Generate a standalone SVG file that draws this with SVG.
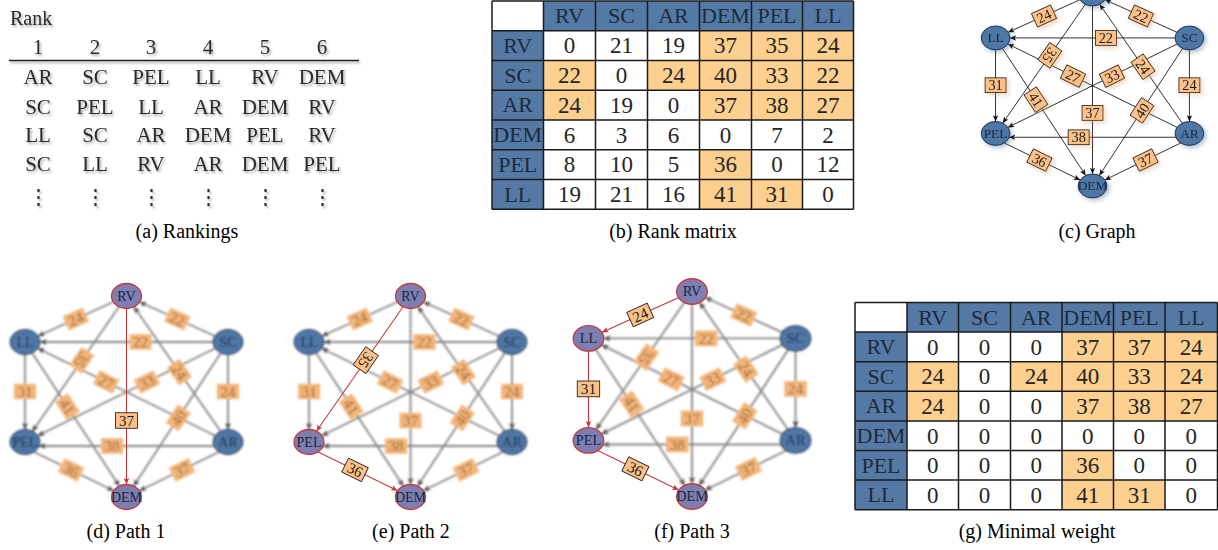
<svg xmlns="http://www.w3.org/2000/svg" width="1218" height="550" viewBox="0 0 1218 550">
<style>
text{font-family:"Liberation Serif","DejaVu Serif",serif}
.cap{font-size:20px;text-anchor:middle;fill:#000}
.rk{font-size:21px;text-anchor:middle;fill:#2b2b2b}
.th{font-size:22px;text-anchor:middle;fill:#1c2a3c}
.td{font-size:23px;text-anchor:middle;fill:#252525}
.hb{fill:#5479a4}.or{fill:#fed08f}.wh{fill:#fff}
.grid{stroke:#1a1a1a;stroke-width:1.5;fill:none}
.e line{stroke:#111;stroke-width:0.9}
.er line{stroke:#c23b3b;stroke-width:1.1}
.eg line{stroke:#858585;stroke-width:1.8}
.nb ellipse{fill:#4f77a5;stroke:#1d2f4a;stroke-width:1}
.nh ellipse{fill:#7e7fb1;stroke:#c8383c;stroke-width:1.3}
.nb text,.nh text{font-size:14px;text-anchor:middle;fill:#1b2540}
.lb rect{fill:#fdc187;stroke:#111;stroke-width:0.8}
.lb text{font-size:15px;text-anchor:middle;fill:#1a1a1a}
.lg rect{fill:#f3b57a}
.lg text{font-size:15px;text-anchor:middle;fill:#9a6434}
</style>
<defs>
<filter id="tsh" x="-20%" y="-20%" width="140%" height="140%"><feDropShadow dx="1.5" dy="2" stdDeviation="1.3" flood-color="#000" flood-opacity="0.35"/></filter>
<filter id="sh" x="-30%" y="-30%" width="170%" height="170%"><feGaussianBlur in="SourceGraphic" stdDeviation="2"/><feOffset dx="2.5" dy="2.5" result="b"/><feComponentTransfer in="b" result="c"><feFuncA type="linear" slope="0.45"/></feComponentTransfer><feMerge><feMergeNode in="c"/><feMergeNode in="SourceGraphic"/></feMerge></filter>
<filter id="bl" x="-10%" y="-10%" width="120%" height="120%"><feGaussianBlur stdDeviation="1.3"/></filter>
<marker id="k125" viewBox="-30 -10 40 20" markerWidth="40" markerHeight="20" refX="0" refY="0" orient="auto" markerUnits="userSpaceOnUse"><path d="M-12.5,0 L-19,-2.8 L-17.5,0 L-19,2.8 Z" fill="#111"/></marker>
<marker id="k131" viewBox="-30 -10 40 20" markerWidth="40" markerHeight="20" refX="0" refY="0" orient="auto" markerUnits="userSpaceOnUse"><path d="M-13.1,0 L-19.6,-2.8 L-18.1,0 L-19.6,2.8 Z" fill="#111"/></marker>
<marker id="k140" viewBox="-30 -10 40 20" markerWidth="40" markerHeight="20" refX="0" refY="0" orient="auto" markerUnits="userSpaceOnUse"><path d="M-14,0 L-20.5,-2.8 L-19,0 L-20.5,2.8 Z" fill="#111"/></marker>
<marker id="k144" viewBox="-30 -10 40 20" markerWidth="40" markerHeight="20" refX="0" refY="0" orient="auto" markerUnits="userSpaceOnUse"><path d="M-14.4,0 L-20.9,-2.8 L-19.4,0 L-20.9,2.8 Z" fill="#111"/></marker>
<marker id="k150" viewBox="-30 -10 40 20" markerWidth="40" markerHeight="20" refX="0" refY="0" orient="auto" markerUnits="userSpaceOnUse"><path d="M-15,0 L-21.5,-2.8 L-20,0 L-21.5,2.8 Z" fill="#111"/></marker>
<marker id="g125" viewBox="-30 -10 40 20" markerWidth="40" markerHeight="20" refX="0" refY="0" orient="auto" markerUnits="userSpaceOnUse"><path d="M-12.5,0 L-19,-3 L-17.5,0 L-19,3 Z" fill="#444"/></marker>
<marker id="g131" viewBox="-30 -10 40 20" markerWidth="40" markerHeight="20" refX="0" refY="0" orient="auto" markerUnits="userSpaceOnUse"><path d="M-13.1,0 L-19.6,-3 L-18.1,0 L-19.6,3 Z" fill="#444"/></marker>
<marker id="g140" viewBox="-30 -10 40 20" markerWidth="40" markerHeight="20" refX="0" refY="0" orient="auto" markerUnits="userSpaceOnUse"><path d="M-14,0 L-20.5,-3 L-19,0 L-20.5,3 Z" fill="#444"/></marker>
<marker id="g144" viewBox="-30 -10 40 20" markerWidth="40" markerHeight="20" refX="0" refY="0" orient="auto" markerUnits="userSpaceOnUse"><path d="M-14.4,0 L-20.9,-3 L-19.4,0 L-20.9,3 Z" fill="#444"/></marker>
<marker id="g150" viewBox="-30 -10 40 20" markerWidth="40" markerHeight="20" refX="0" refY="0" orient="auto" markerUnits="userSpaceOnUse"><path d="M-15,0 L-21.5,-3 L-20,0 L-21.5,3 Z" fill="#444"/></marker>
<marker id="r125" viewBox="-30 -10 40 20" markerWidth="40" markerHeight="20" refX="0" refY="0" orient="auto" markerUnits="userSpaceOnUse"><path d="M-12.5,0 L-19,-2.8 L-17.5,0 L-19,2.8 Z" fill="#c23b3b"/></marker>
<marker id="r131" viewBox="-30 -10 40 20" markerWidth="40" markerHeight="20" refX="0" refY="0" orient="auto" markerUnits="userSpaceOnUse"><path d="M-13.1,0 L-19.6,-2.8 L-18.1,0 L-19.6,2.8 Z" fill="#c23b3b"/></marker>
<marker id="r144" viewBox="-30 -10 40 20" markerWidth="40" markerHeight="20" refX="0" refY="0" orient="auto" markerUnits="userSpaceOnUse"><path d="M-14.4,0 L-20.9,-2.8 L-19.4,0 L-20.9,2.8 Z" fill="#c23b3b"/></marker>
</defs>
<rect width="1218" height="550" fill="#fff"/>

<!-- (a) Rankings -->
<g id="rankings" filter="url(#tsh)">
<text x="10" y="25" style="font-size:20px;fill:#2b2b2b">Rank</text>
<g class="rk">
<text x="38" y="54">1</text><text x="95" y="54">2</text><text x="151" y="54">3</text><text x="208" y="54">4</text><text x="265" y="54">5</text><text x="322" y="54">6</text>
</g>
<line x1="9" y1="60.5" x2="359" y2="60.5" stroke="#222" stroke-width="1.5"/>
<g class="rk">
<text x="38" y="84">AR</text><text x="95" y="84">SC</text><text x="151" y="84">PEL</text><text x="208" y="84">LL</text><text x="265" y="84">RV</text><text x="322" y="84">DEM</text>
<text x="38" y="113.5">SC</text><text x="95" y="113.5">PEL</text><text x="151" y="113.5">LL</text><text x="208" y="113.5">AR</text><text x="265" y="113.5">DEM</text><text x="322" y="113.5">RV</text>
<text x="38" y="142">LL</text><text x="95" y="142">SC</text><text x="151" y="142">AR</text><text x="208" y="142">DEM</text><text x="265" y="142">PEL</text><text x="322" y="142">RV</text>
<text x="38" y="170.5">SC</text><text x="95" y="170.5">LL</text><text x="151" y="170.5">RV</text><text x="208" y="170.5">AR</text><text x="265" y="170.5">DEM</text><text x="322" y="170.5">PEL</text>
<text x="38" y="204">⋮</text><text x="95" y="204">⋮</text><text x="151" y="204">⋮</text><text x="208" y="204">⋮</text><text x="265" y="204">⋮</text><text x="322" y="204">⋮</text>
</g>
</g>
<text class="cap" x="187" y="238">(a) Rankings</text>

<!-- (b) Rank matrix -->
<g id="rank-matrix">
<rect class="wh" x="492" y="1" width="51.5" height="29.75"/>
<rect class="hb" x="543.5" y="1" width="310" height="29.75"/>
<rect class="hb" x="492" y="30.75" width="51.5" height="178.5"/>
<rect class="wh" x="543.5" y="30.75" width="310" height="178.5"/>
<rect class="or" x="699.5" y="30.75" width="154" height="29.75"/>
<rect class="or" x="543.5" y="60.5" width="52" height="29.75"/>
<rect class="or" x="647.5" y="60.5" width="206" height="29.75"/>
<rect class="or" x="543.5" y="90.25" width="52" height="29.75"/>
<rect class="or" x="699.5" y="90.25" width="154" height="29.75"/>
<rect class="or" x="699.5" y="149.75" width="52" height="29.75"/>
<rect class="or" x="699.5" y="179.5" width="103" height="29.75"/>
<path class="grid" d="M492,1H853.5M492,30.75H853.5M492,60.5H853.5M492,90.25H853.5M492,120H853.5M492,149.75H853.5M492,179.5H853.5M492,209.25H853.5M492,1V209.25M543.5,1V209.25M595.5,1V209.25M647.5,1V209.25M699.5,1V209.25M751.5,1V209.25M802.5,1V209.25M853.5,1V209.25"/>
<g class="th">
<text x="569.5" y="23.2">RV</text><text x="621.5" y="23.2">SC</text><text x="673.5" y="23.2">AR</text><text x="725.5" y="23.2">DEM</text><text x="777" y="23.2">PEL</text><text x="828" y="23.2">LL</text>
<text x="517.75" y="52.9">RV</text><text x="517.75" y="82.7">SC</text><text x="517.75" y="112.4">AR</text><text x="517.75" y="142.2">DEM</text><text x="517.75" y="171.9">PEL</text><text x="517.75" y="201.7">LL</text>
</g>
<g class="td">
<text x="569.5" y="53.4">0</text><text x="621.5" y="53.4">21</text><text x="673.5" y="53.4">19</text><text x="725.5" y="53.4">37</text><text x="777" y="53.4">35</text><text x="828" y="53.4">24</text>
<text x="569.5" y="83.2">22</text><text x="621.5" y="83.2">0</text><text x="673.5" y="83.2">24</text><text x="725.5" y="83.2">40</text><text x="777" y="83.2">33</text><text x="828" y="83.2">22</text>
<text x="569.5" y="112.9">24</text><text x="621.5" y="112.9">19</text><text x="673.5" y="112.9">0</text><text x="725.5" y="112.9">37</text><text x="777" y="112.9">38</text><text x="828" y="112.9">27</text>
<text x="569.5" y="142.7">6</text><text x="621.5" y="142.7">3</text><text x="673.5" y="142.7">6</text><text x="725.5" y="142.7">0</text><text x="777" y="142.7">7</text><text x="828" y="142.7">2</text>
<text x="569.5" y="172.4">8</text><text x="621.5" y="172.4">10</text><text x="673.5" y="172.4">5</text><text x="725.5" y="172.4">36</text><text x="777" y="172.4">0</text><text x="828" y="172.4">12</text>
<text x="569.5" y="202.2">19</text><text x="621.5" y="202.2">21</text><text x="673.5" y="202.2">16</text><text x="725.5" y="202.2">41</text><text x="777" y="202.2">31</text><text x="828" y="202.2">0</text>
</g>
</g>
<text class="cap" x="673" y="238">(b) Rank matrix</text>

<!-- (c) Graph -->
<g id="graph-c" transform="translate(1092.5,90) scale(0.955)">
<g id="c-connectors">
<g class="e">
<line x1="0" y1="-100.5" x2="-101.5" y2="-54.5" marker-end="url(#k144)"/>
<line x1="101.5" y1="-54.5" x2="0" y2="-100.5" marker-end="url(#k144)"/>
<line x1="101.5" y1="-54.5" x2="-101.5" y2="-54.5" marker-end="url(#k150)"/>
<line x1="0" y1="-100.5" x2="-101.5" y2="45.5" marker-end="url(#k131)"/>
<line x1="-101.5" y1="-54.5" x2="0" y2="100.5" marker-end="url(#k131)"/>
<line x1="101.5" y1="45.5" x2="-101.5" y2="-54.5" marker-end="url(#k144)"/>
<line x1="101.5" y1="-54.5" x2="-101.5" y2="45.5" marker-end="url(#k144)"/>
<line x1="101.5" y1="45.5" x2="0" y2="-100.5" marker-end="url(#k131)"/>
<line x1="101.5" y1="-54.5" x2="0" y2="100.5" marker-end="url(#k131)"/>
<line x1="-101.5" y1="-54.5" x2="-101.5" y2="45.5" marker-end="url(#k125)"/>
<line x1="101.5" y1="-54.5" x2="101.5" y2="45.5" marker-end="url(#k125)"/>
<line x1="0" y1="-100.5" x2="0" y2="100.5" marker-end="url(#k125)"/>
<line x1="101.5" y1="49.5" x2="-101.5" y2="49.5" marker-end="url(#k140)"/>
<line x1="-101.5" y1="51" x2="0" y2="100.5" marker-end="url(#k144)"/>
<line x1="101.5" y1="51" x2="0" y2="100.5" marker-end="url(#k144)"/>
</g>
<g class="lb" filter="url(#sh)">
<g transform="translate(-50.75,-77.5) rotate(-24.4)"><rect x="-11" y="-7.75" width="22" height="15.5"/><text y="5.2">24</text></g>
<g transform="translate(50.75,-77.5) rotate(24.4)"><rect x="-11" y="-7.75" width="22" height="15.5"/><text y="5.2">22</text></g>
<g transform="translate(14,-54.5)"><rect x="-11" y="-7.75" width="22" height="15.5"/><text y="5.2">22</text></g>
<g transform="translate(-44.7,-36.3) rotate(124.8)"><rect x="-11" y="-7.75" width="22" height="15.5"/><text y="5.2">35</text></g>
<g transform="translate(-59.2,10.1) rotate(56.8)"><rect x="-11" y="-7.75" width="22" height="15.5"/><text y="5.2">41</text></g>
<g transform="translate(-20.4,-14.5) rotate(26.2)"><rect x="-11" y="-7.75" width="22" height="15.5"/><text y="5.2">27</text></g>
<g transform="translate(20.4,-14.5) rotate(-26.2)"><rect x="-11" y="-7.75" width="22" height="15.5"/><text y="5.2">33</text></g>
<g transform="translate(52.9,-24.4) rotate(55.2)"><rect x="-11" y="-7.75" width="22" height="15.5"/><text y="5.2">24</text></g>
<g transform="translate(51.8,21.4) rotate(-56.8)"><rect x="-11" y="-7.75" width="22" height="15.5"/><text y="5.2">40</text></g>
<g transform="translate(-101.5,-5)"><rect x="-11" y="-7.75" width="22" height="15.5"/><text y="5.2">31</text></g>
<g transform="translate(101.5,-5)"><rect x="-11" y="-7.75" width="22" height="15.5"/><text y="5.2">24</text></g>
<g transform="translate(0,24)"><rect x="-11" y="-7.75" width="22" height="15.5"/><text y="5.2">37</text></g>
<g transform="translate(-14.5,49.5)"><rect x="-11" y="-7.75" width="22" height="15.5"/><text y="5.2">38</text></g>
<g transform="translate(-55.5,73.4) rotate(26)"><rect x="-11" y="-7.75" width="22" height="15.5"/><text y="5.2">36</text></g>
<g transform="translate(55.5,73.4) rotate(-26)"><rect x="-11" y="-7.75" width="22" height="15.5"/><text y="5.2">37</text></g>
</g>
</g>
<g id="c-RV" class="nb" filter="url(#sh)" transform="translate(0,-100.5)"><ellipse rx="15" ry="12.5"/><text y="4.7">RV</text></g>
<g id="c-LL" class="nb" filter="url(#sh)" transform="translate(-101.5,-54.5)"><ellipse rx="15" ry="12.5"/><text y="4.7">LL</text></g>
<g id="c-SC" class="nb" filter="url(#sh)" transform="translate(101.5,-54.5)"><ellipse rx="15" ry="12.5"/><text y="4.7">SC</text></g>
<g id="c-PEL" class="nb" filter="url(#sh)" transform="translate(-101.5,45.5)"><ellipse rx="15" ry="12.5"/><text y="4.7">PEL</text></g>
<g id="c-AR" class="nb" filter="url(#sh)" transform="translate(101.5,45.5)"><ellipse rx="15" ry="12.5"/><text y="4.7">AR</text></g>
<g id="c-DEM" class="nb" filter="url(#sh)" transform="translate(0,100.5)"><ellipse rx="15" ry="12.5"/><text y="4.7">DEM</text></g>
</g>
<text class="cap" x="1097" y="238">(c) Graph</text>

<!-- (d) Path 1 -->
<g id="path-d" transform="translate(126.5,396.5)">
<g id="d-background" filter="url(#bl)">
<g class="eg">
<line x1="0" y1="-100.5" x2="-101.5" y2="-54.5" marker-end="url(#g144)"/>
<line x1="101.5" y1="-54.5" x2="0" y2="-100.5" marker-end="url(#g144)"/>
<line x1="101.5" y1="-54.5" x2="-101.5" y2="-54.5" marker-end="url(#g150)"/>
<line x1="0" y1="-100.5" x2="-101.5" y2="45.5" marker-end="url(#g131)"/>
<line x1="-101.5" y1="-54.5" x2="0" y2="100.5" marker-end="url(#g131)"/>
<line x1="101.5" y1="45.5" x2="-101.5" y2="-54.5" marker-end="url(#g144)"/>
<line x1="101.5" y1="-54.5" x2="-101.5" y2="45.5" marker-end="url(#g144)"/>
<line x1="101.5" y1="45.5" x2="0" y2="-100.5" marker-end="url(#g131)"/>
<line x1="101.5" y1="-54.5" x2="0" y2="100.5" marker-end="url(#g131)"/>
<line x1="-101.5" y1="-54.5" x2="-101.5" y2="45.5" marker-end="url(#g125)"/>
<line x1="101.5" y1="-54.5" x2="101.5" y2="45.5" marker-end="url(#g125)"/>
<line x1="101.5" y1="49.5" x2="-101.5" y2="49.5" marker-end="url(#g140)"/>
<line x1="-101.5" y1="51" x2="0" y2="100.5" marker-end="url(#g144)"/>
<line x1="101.5" y1="51" x2="0" y2="100.5" marker-end="url(#g144)"/>
</g>
<g class="lg">
<g transform="translate(-50.75,-77.5) rotate(-24.4)"><rect x="-11" y="-7.75" width="22" height="15.5"/><text y="5.2">24</text></g>
<g transform="translate(50.75,-77.5) rotate(24.4)"><rect x="-11" y="-7.75" width="22" height="15.5"/><text y="5.2">22</text></g>
<g transform="translate(14,-54.5)"><rect x="-11" y="-7.75" width="22" height="15.5"/><text y="5.2">22</text></g>
<g transform="translate(-44.7,-36.3) rotate(124.8)"><rect x="-11" y="-7.75" width="22" height="15.5"/><text y="5.2">35</text></g>
<g transform="translate(-59.2,10.1) rotate(56.8)"><rect x="-11" y="-7.75" width="22" height="15.5"/><text y="5.2">41</text></g>
<g transform="translate(-20.4,-14.5) rotate(26.2)"><rect x="-11" y="-7.75" width="22" height="15.5"/><text y="5.2">27</text></g>
<g transform="translate(20.4,-14.5) rotate(-26.2)"><rect x="-11" y="-7.75" width="22" height="15.5"/><text y="5.2">33</text></g>
<g transform="translate(52.9,-24.4) rotate(55.2)"><rect x="-11" y="-7.75" width="22" height="15.5"/><text y="5.2">24</text></g>
<g transform="translate(51.8,21.4) rotate(-56.8)"><rect x="-11" y="-7.75" width="22" height="15.5"/><text y="5.2">40</text></g>
<g transform="translate(-101.5,-5)"><rect x="-11" y="-7.75" width="22" height="15.5"/><text y="5.2">31</text></g>
<g transform="translate(101.5,-5)"><rect x="-11" y="-7.75" width="22" height="15.5"/><text y="5.2">24</text></g>
<g transform="translate(-14.5,49.5)"><rect x="-11" y="-7.75" width="22" height="15.5"/><text y="5.2">38</text></g>
<g transform="translate(-55.5,73.4) rotate(26)"><rect x="-11" y="-7.75" width="22" height="15.5"/><text y="5.2">36</text></g>
<g transform="translate(55.5,73.4) rotate(-26)"><rect x="-11" y="-7.75" width="22" height="15.5"/><text y="5.2">37</text></g>
</g>
<g id="d-LL" class="nb" transform="translate(-101.5,-54.5)"><ellipse rx="15" ry="12.5"/><text y="4.7">LL</text></g>
<g id="d-SC" class="nb" transform="translate(101.5,-54.5)"><ellipse rx="15" ry="12.5"/><text y="4.7">SC</text></g>
<g id="d-PEL" class="nb" transform="translate(-101.5,45.5)"><ellipse rx="15" ry="12.5"/><text y="4.7">PEL</text></g>
<g id="d-AR" class="nb" transform="translate(101.5,45.5)"><ellipse rx="15" ry="12.5"/><text y="4.7">AR</text></g>
</g>
<g id="d-connectors">
<g class="er"><line x1="0" y1="-100.5" x2="0" y2="100.5" marker-end="url(#r125)"/></g>
<g class="lb"><g transform="translate(0,24)"><rect x="-11" y="-7.75" width="22" height="15.5"/><text y="5.2">37</text></g></g>
</g>
<g id="d-RV" class="nh" transform="translate(0,-100.5)"><ellipse rx="15" ry="12.5"/><text y="4.7">RV</text></g>
<g id="d-DEM" class="nh" transform="translate(0,100.5)"><ellipse rx="15" ry="12.5"/><text y="4.7">DEM</text></g>
</g>
<text class="cap" x="126" y="538">(d) Path 1</text>

<!-- (e) Path 2 -->
<g id="path-e" transform="translate(410.5,396.5)">
<g id="e-background" filter="url(#bl)">
<g class="eg">
<line x1="0" y1="-100.5" x2="-101.5" y2="-54.5" marker-end="url(#g144)"/>
<line x1="101.5" y1="-54.5" x2="0" y2="-100.5" marker-end="url(#g144)"/>
<line x1="101.5" y1="-54.5" x2="-101.5" y2="-54.5" marker-end="url(#g150)"/>
<line x1="-101.5" y1="-54.5" x2="0" y2="100.5" marker-end="url(#g131)"/>
<line x1="101.5" y1="45.5" x2="-101.5" y2="-54.5" marker-end="url(#g144)"/>
<line x1="101.5" y1="-54.5" x2="-101.5" y2="45.5" marker-end="url(#g144)"/>
<line x1="101.5" y1="45.5" x2="0" y2="-100.5" marker-end="url(#g131)"/>
<line x1="101.5" y1="-54.5" x2="0" y2="100.5" marker-end="url(#g131)"/>
<line x1="-101.5" y1="-54.5" x2="-101.5" y2="45.5" marker-end="url(#g125)"/>
<line x1="101.5" y1="-54.5" x2="101.5" y2="45.5" marker-end="url(#g125)"/>
<line x1="0" y1="-100.5" x2="0" y2="100.5" marker-end="url(#g125)"/>
<line x1="101.5" y1="49.5" x2="-101.5" y2="49.5" marker-end="url(#g140)"/>
<line x1="101.5" y1="51" x2="0" y2="100.5" marker-end="url(#g144)"/>
</g>
<g class="lg">
<g transform="translate(-50.75,-77.5) rotate(-24.4)"><rect x="-11" y="-7.75" width="22" height="15.5"/><text y="5.2">24</text></g>
<g transform="translate(50.75,-77.5) rotate(24.4)"><rect x="-11" y="-7.75" width="22" height="15.5"/><text y="5.2">22</text></g>
<g transform="translate(14,-54.5)"><rect x="-11" y="-7.75" width="22" height="15.5"/><text y="5.2">22</text></g>
<g transform="translate(-59.2,10.1) rotate(56.8)"><rect x="-11" y="-7.75" width="22" height="15.5"/><text y="5.2">41</text></g>
<g transform="translate(-20.4,-14.5) rotate(26.2)"><rect x="-11" y="-7.75" width="22" height="15.5"/><text y="5.2">27</text></g>
<g transform="translate(20.4,-14.5) rotate(-26.2)"><rect x="-11" y="-7.75" width="22" height="15.5"/><text y="5.2">33</text></g>
<g transform="translate(52.9,-24.4) rotate(55.2)"><rect x="-11" y="-7.75" width="22" height="15.5"/><text y="5.2">24</text></g>
<g transform="translate(51.8,21.4) rotate(-56.8)"><rect x="-11" y="-7.75" width="22" height="15.5"/><text y="5.2">40</text></g>
<g transform="translate(-101.5,-5)"><rect x="-11" y="-7.75" width="22" height="15.5"/><text y="5.2">31</text></g>
<g transform="translate(101.5,-5)"><rect x="-11" y="-7.75" width="22" height="15.5"/><text y="5.2">24</text></g>
<g transform="translate(0,24)"><rect x="-11" y="-7.75" width="22" height="15.5"/><text y="5.2">37</text></g>
<g transform="translate(-14.5,49.5)"><rect x="-11" y="-7.75" width="22" height="15.5"/><text y="5.2">38</text></g>
<g transform="translate(55.5,73.4) rotate(-26)"><rect x="-11" y="-7.75" width="22" height="15.5"/><text y="5.2">37</text></g>
</g>
<g id="e-LL" class="nb" transform="translate(-101.5,-54.5)"><ellipse rx="15" ry="12.5"/><text y="4.7">LL</text></g>
<g id="e-SC" class="nb" transform="translate(101.5,-54.5)"><ellipse rx="15" ry="12.5"/><text y="4.7">SC</text></g>
<g id="e-AR" class="nb" transform="translate(101.5,45.5)"><ellipse rx="15" ry="12.5"/><text y="4.7">AR</text></g>
</g>
<g id="e-connectors">
<g class="er">
<line x1="0" y1="-100.5" x2="-101.5" y2="45.5" marker-end="url(#r131)"/>
<line x1="-101.5" y1="51" x2="0" y2="100.5" marker-end="url(#r144)"/>
</g>
<g class="lb">
<g transform="translate(-44.7,-36.3) rotate(124.8)"><rect x="-11" y="-7.75" width="22" height="15.5"/><text y="5.2">35</text></g>
<g transform="translate(-55.5,73.4) rotate(26)"><rect x="-11" y="-7.75" width="22" height="15.5"/><text y="5.2">36</text></g>
</g>
</g>
<g id="e-RV" class="nh" transform="translate(0,-100.5)"><ellipse rx="15" ry="12.5"/><text y="4.7">RV</text></g>
<g id="e-PEL" class="nh" transform="translate(-101.5,45.5)"><ellipse rx="15" ry="12.5"/><text y="4.7">PEL</text></g>
<g id="e-DEM" class="nh" transform="translate(0,100.5)"><ellipse rx="15" ry="12.5"/><text y="4.7">DEM</text></g>
</g>
<text class="cap" x="411" y="538">(e) Path 2</text>

<!-- (f) Path 3 -->
<g id="path-f" transform="translate(692,394) scale(1.02)">
<g id="f-background" filter="url(#bl)">
<g class="eg">
<line x1="101.5" y1="-54.5" x2="0" y2="-100.5" marker-end="url(#g144)"/>
<line x1="101.5" y1="-54.5" x2="-101.5" y2="-54.5" marker-end="url(#g150)"/>
<line x1="0" y1="-100.5" x2="-101.5" y2="45.5" marker-end="url(#g131)"/>
<line x1="-101.5" y1="-54.5" x2="0" y2="100.5" marker-end="url(#g131)"/>
<line x1="101.5" y1="45.5" x2="-101.5" y2="-54.5" marker-end="url(#g144)"/>
<line x1="101.5" y1="-54.5" x2="-101.5" y2="45.5" marker-end="url(#g144)"/>
<line x1="101.5" y1="45.5" x2="0" y2="-100.5" marker-end="url(#g131)"/>
<line x1="101.5" y1="-54.5" x2="0" y2="100.5" marker-end="url(#g131)"/>
<line x1="101.5" y1="-54.5" x2="101.5" y2="45.5" marker-end="url(#g125)"/>
<line x1="0" y1="-100.5" x2="0" y2="100.5" marker-end="url(#g125)"/>
<line x1="101.5" y1="49.5" x2="-101.5" y2="49.5" marker-end="url(#g140)"/>
<line x1="101.5" y1="51" x2="0" y2="100.5" marker-end="url(#g144)"/>
</g>
<g class="lg">
<g transform="translate(50.75,-77.5) rotate(24.4)"><rect x="-11" y="-7.75" width="22" height="15.5"/><text y="5.2">22</text></g>
<g transform="translate(14,-54.5)"><rect x="-11" y="-7.75" width="22" height="15.5"/><text y="5.2">22</text></g>
<g transform="translate(-44.7,-36.3) rotate(124.8)"><rect x="-11" y="-7.75" width="22" height="15.5"/><text y="5.2">35</text></g>
<g transform="translate(-59.2,10.1) rotate(56.8)"><rect x="-11" y="-7.75" width="22" height="15.5"/><text y="5.2">41</text></g>
<g transform="translate(-20.4,-14.5) rotate(26.2)"><rect x="-11" y="-7.75" width="22" height="15.5"/><text y="5.2">27</text></g>
<g transform="translate(20.4,-14.5) rotate(-26.2)"><rect x="-11" y="-7.75" width="22" height="15.5"/><text y="5.2">33</text></g>
<g transform="translate(52.9,-24.4) rotate(55.2)"><rect x="-11" y="-7.75" width="22" height="15.5"/><text y="5.2">24</text></g>
<g transform="translate(51.8,21.4) rotate(-56.8)"><rect x="-11" y="-7.75" width="22" height="15.5"/><text y="5.2">40</text></g>
<g transform="translate(101.5,-5)"><rect x="-11" y="-7.75" width="22" height="15.5"/><text y="5.2">24</text></g>
<g transform="translate(0,24)"><rect x="-11" y="-7.75" width="22" height="15.5"/><text y="5.2">37</text></g>
<g transform="translate(-14.5,49.5)"><rect x="-11" y="-7.75" width="22" height="15.5"/><text y="5.2">38</text></g>
<g transform="translate(55.5,73.4) rotate(-26)"><rect x="-11" y="-7.75" width="22" height="15.5"/><text y="5.2">37</text></g>
</g>
<g id="f-SC" class="nb" transform="translate(101.5,-54.5)"><ellipse rx="15" ry="12.5"/><text y="4.7">SC</text></g>
<g id="f-AR" class="nb" transform="translate(101.5,45.5)"><ellipse rx="15" ry="12.5"/><text y="4.7">AR</text></g>
</g>
<g id="f-connectors">
<g class="er">
<line x1="0" y1="-100.5" x2="-101.5" y2="-54.5" marker-end="url(#r144)"/>
<line x1="-101.5" y1="-54.5" x2="-101.5" y2="45.5" marker-end="url(#r125)"/>
<line x1="-101.5" y1="51" x2="0" y2="100.5" marker-end="url(#r144)"/>
</g>
<g class="lb">
<g transform="translate(-50.75,-77.5) rotate(-24.4)"><rect x="-11" y="-7.75" width="22" height="15.5"/><text y="5.2">24</text></g>
<g transform="translate(-101.5,-5)"><rect x="-11" y="-7.75" width="22" height="15.5"/><text y="5.2">31</text></g>
<g transform="translate(-55.5,73.4) rotate(26)"><rect x="-11" y="-7.75" width="22" height="15.5"/><text y="5.2">36</text></g>
</g>
</g>
<g id="f-RV" class="nh" transform="translate(0,-100.5)"><ellipse rx="15" ry="12.5"/><text y="4.7">RV</text></g>
<g id="f-LL" class="nh" transform="translate(-101.5,-54.5)"><ellipse rx="15" ry="12.5"/><text y="4.7">LL</text></g>
<g id="f-PEL" class="nh" transform="translate(-101.5,45.5)"><ellipse rx="15" ry="12.5"/><text y="4.7">PEL</text></g>
<g id="f-DEM" class="nh" transform="translate(0,100.5)"><ellipse rx="15" ry="12.5"/><text y="4.7">DEM</text></g>
</g>
<text class="cap" x="692" y="538">(f) Path 3</text>

<!-- (g) Minimal weight -->
<g id="minimal-weight">
<rect class="wh" x="855" y="302.5" width="52" height="29.6"/>
<rect class="hb" x="907" y="302.5" width="310.5" height="29.6"/>
<rect class="hb" x="855" y="332.1" width="52" height="177.6"/>
<rect class="wh" x="907" y="332.1" width="310.5" height="177.6"/>
<rect class="or" x="1062" y="332.1" width="155.5" height="29.6"/>
<rect class="or" x="907" y="361.7" width="51.5" height="29.6"/>
<rect class="or" x="1010.5" y="361.7" width="207" height="29.6"/>
<rect class="or" x="907" y="391.3" width="51.5" height="29.6"/>
<rect class="or" x="1062" y="391.3" width="155.5" height="29.6"/>
<rect class="or" x="1062" y="450.5" width="51.5" height="29.6"/>
<rect class="or" x="1062" y="480.1" width="103" height="29.6"/>
<path class="grid" d="M855,302.5H1217.5M855,332.1H1217.5M855,361.7H1217.5M855,391.3H1217.5M855,420.9H1217.5M855,450.5H1217.5M855,480.1H1217.5M855,509.7H1217.5M855,302.5V509.7M907,302.5V509.7M958.5,302.5V509.7M1010.5,302.5V509.7M1062,302.5V509.7M1113.5,302.5V509.7M1165,302.5V509.7M1217.5,302.5V509.7"/>
<g class="th">
<text x="932.75" y="324.6">RV</text><text x="984.5" y="324.6">SC</text><text x="1036.25" y="324.6">AR</text><text x="1087.75" y="324.6">DEM</text><text x="1139.25" y="324.6">PEL</text><text x="1191.25" y="324.6">LL</text>
<text x="881" y="354.2">RV</text><text x="881" y="383.8">SC</text><text x="881" y="413.4">AR</text><text x="881" y="443">DEM</text><text x="881" y="472.6">PEL</text><text x="881" y="502.2">LL</text>
</g>
<g class="td">
<text x="932.75" y="354.7">0</text><text x="984.5" y="354.7">0</text><text x="1036.25" y="354.7">0</text><text x="1087.75" y="354.7">37</text><text x="1139.25" y="354.7">37</text><text x="1191.25" y="354.7">24</text>
<text x="932.75" y="384.3">24</text><text x="984.5" y="384.3">0</text><text x="1036.25" y="384.3">24</text><text x="1087.75" y="384.3">40</text><text x="1139.25" y="384.3">33</text><text x="1191.25" y="384.3">24</text>
<text x="932.75" y="413.9">24</text><text x="984.5" y="413.9">0</text><text x="1036.25" y="413.9">0</text><text x="1087.75" y="413.9">37</text><text x="1139.25" y="413.9">38</text><text x="1191.25" y="413.9">27</text>
<text x="932.75" y="443.5">0</text><text x="984.5" y="443.5">0</text><text x="1036.25" y="443.5">0</text><text x="1087.75" y="443.5">0</text><text x="1139.25" y="443.5">0</text><text x="1191.25" y="443.5">0</text>
<text x="932.75" y="473.1">0</text><text x="984.5" y="473.1">0</text><text x="1036.25" y="473.1">0</text><text x="1087.75" y="473.1">36</text><text x="1139.25" y="473.1">0</text><text x="1191.25" y="473.1">0</text>
<text x="932.75" y="502.7">0</text><text x="984.5" y="502.7">0</text><text x="1036.25" y="502.7">0</text><text x="1087.75" y="502.7">41</text><text x="1139.25" y="502.7">31</text><text x="1191.25" y="502.7">0</text>
</g>
</g>
<text class="cap" x="1037" y="538">(g) Minimal weight</text>
</svg>
